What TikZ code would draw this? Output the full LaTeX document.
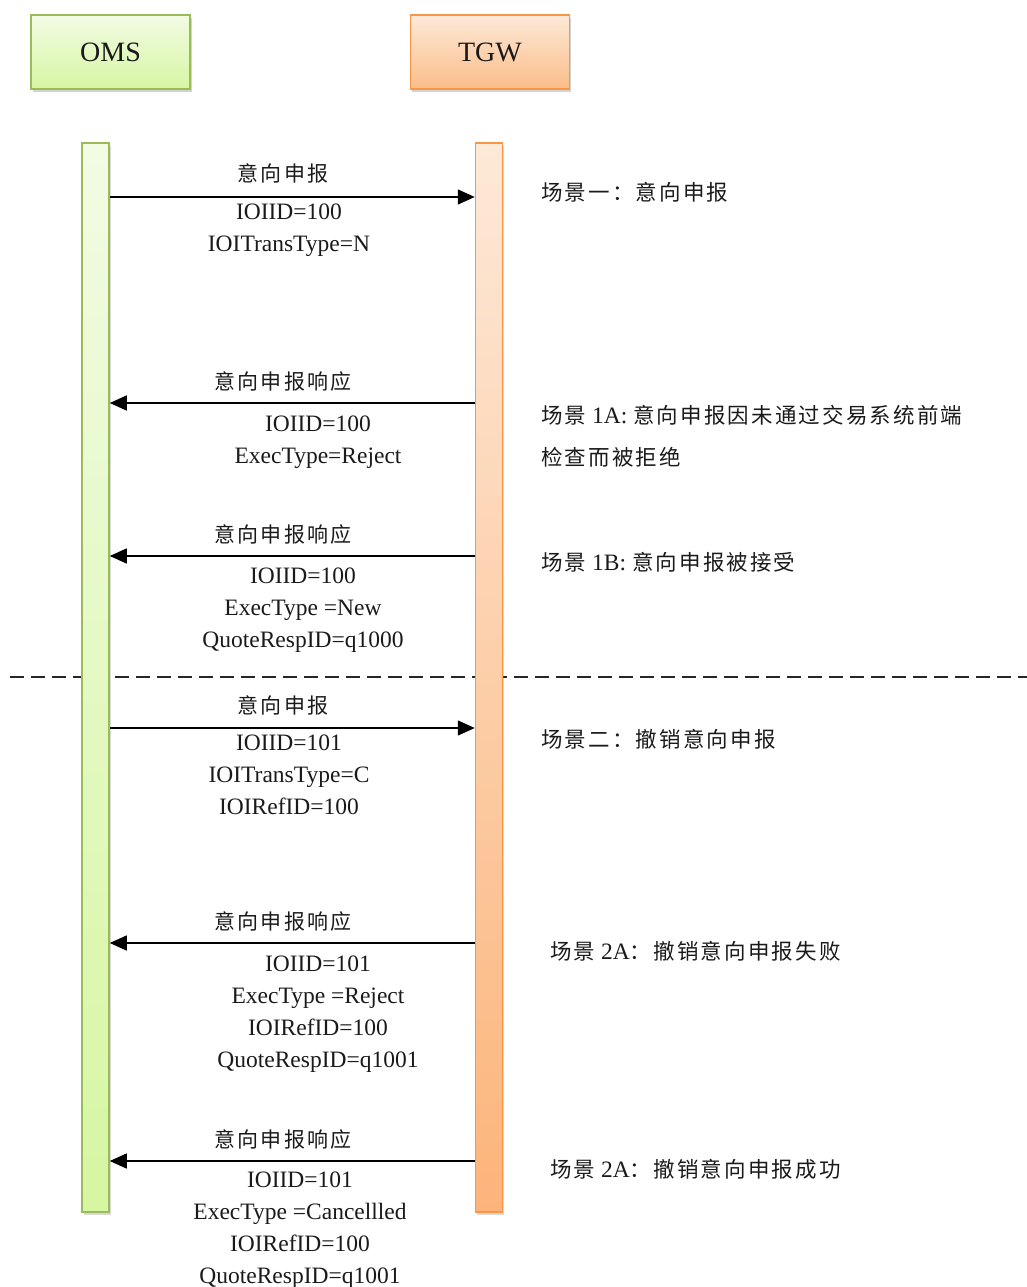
\documentclass[tikz,border=0pt]{standalone}
\usepackage{fontspec}
\setmainfont{Liberation Serif}
\newfontfamily\cjk[LetterSpace=10]{Noto Sans CJK SC}
\newfontfamily\cjks[LetterSpace=10,Scale=0.915]{Noto Sans CJK SC}
\usetikzlibrary{arrows.meta,shadows}
\definecolor{gborder}{HTML}{9BBB59}
\definecolor{gtop}{HTML}{F2FBE4}
\definecolor{gbot}{HTML}{D6F6A2}
\definecolor{oborder}{HTML}{F79646}
\definecolor{otop}{HTML}{FDE9D8}
\definecolor{obot}{HTML}{FBBD88}
\definecolor{obotl}{HTML}{FCB47A}
\definecolor{txt}{HTML}{1A1A1A}
\tikzset{
  hdr/.style={draw, line width=1.5pt, minimum width=159pt, minimum height=74pt, inner sep=0pt,
    font=\fontsize{28}{32}\selectfont, text=txt,
    drop shadow={opacity=0.35, shadow xshift=1.5pt, shadow yshift=-3pt}},
  lifeline/.style={draw, line width=1.5pt, minimum width=27pt, minimum height=1069pt, inner sep=0pt,
    drop shadow={opacity=0.3, shadow xshift=1.5pt, shadow yshift=-3pt}},
  msg/.style={line width=1.4pt, -{Triangle[length=17pt,width=15pt]}},
  mlabel/.style={font=\fontsize{21}{26}\selectfont\cjk, text=txt, inner sep=0pt},
  fields/.style={font=\fontsize{23.5}{32}\selectfont, text=txt, align=center, anchor=north, inner sep=0pt},
  scene/.style={font=\fontsize{23.5}{42}\selectfont, text=txt, align=left, anchor=west, inner sep=0pt},
}
\begin{document}
\begin{tikzpicture}[x=1pt,y=-1pt]
\useasboundingbox (0,0) rectangle (1027,1287);
% separator (behind lifelines)
\coordinate (sepL) at (10,677);
\coordinate (sepR) at (1027,677);
\draw[line width=1.8pt, dash pattern=on 14pt off 7pt, black!85] (sepL) -- (sepR);

% headers
\node[hdr, color=gborder, top color=gtop, bottom color=gbot] (oms) at (110.5,52) {\textcolor{txt}{OMS}};
\node[hdr, color=oborder, top color=otop, bottom color=obot] (tgw) at (490,52) {\textcolor{txt}{TGW}};

% lifelines
\node[lifeline, color=gborder, top color=gtop, bottom color=gbot] (omsL) at (95.5,677.5) {};
\node[lifeline, color=oborder, top color=otop, bottom color=obotl] (tgwL) at (489,677.5) {};

% message 1
\draw[msg] (omsL.east |- 0,197) -- (tgwL.west |- 0,197);
\node[mlabel] (l1) at (283,173) {意向申报};
\node[fields] (f1) at (289,203.5) {IOIID=100\\IOITransType=N};

% message 2
\draw[msg] (tgwL.west |- 0,403) -- (omsL.east |- 0,403);
\node[mlabel] (l2) at (283,381) {意向申报响应};
\node[fields] (f2) at (318,415.5) {IOIID=100\\ExecType=Reject};

% message 3
\draw[msg] (tgwL.west |- 0,556) -- (omsL.east |- 0,556);
\node[mlabel] (l3) at (283,534) {意向申报响应};
\node[fields] (f3) at (303,568) {IOIID=100\\ExecType =New\\QuoteRespID=q1000};

% message 4
\draw[msg] (omsL.east |- 0,728) -- (tgwL.west |- 0,728);
\node[mlabel] (l4) at (283,705) {意向申报};
\node[fields] (f4) at (289,734.5) {IOIID=101\\IOITransType=C\\IOIRefID=100};

% message 5
\draw[msg] (tgwL.west |- 0,943) -- (omsL.east |- 0,943);
\node[mlabel] (l5) at (283,921) {意向申报响应};
\node[fields] (f5) at (318,955.5) {IOIID=101\\ExecType =Reject\\IOIRefID=100\\QuoteRespID=q1001};

% message 6
\draw[msg] (tgwL.west |- 0,1161) -- (omsL.east |- 0,1161);
\node[mlabel] (l6) at (283,1139) {意向申报响应};
\node[fields] (f6) at (300,1171.5) {IOIID=101\\ExecType =Cancellled\\IOIRefID=100\\QuoteRespID=q1001};

% scene notes
\node[scene] (s1) at (541,192) {{\cjks 场景一：意向申报}};
\node[scene, anchor=north west] (s1a) at (541,405) {{\cjks 场景} 1A: {\cjks 意向申报因未通过交易系统前端}\\{\cjks 检查而被拒绝}};
\node[scene] (s1b) at (541,562) {{\cjks 场景} 1B: {\cjks 意向申报被接受}};
\node[scene] (s2) at (541,739) {{\cjks 场景二：撤销意向申报}};
\node[scene] (s2a) at (550,951) {{\cjks 场景} 2A{\cjks ：撤销意向申报失败}};
\node[scene] (s2b) at (550,1169) {{\cjks 场景} 2A{\cjks ：撤销意向申报成功}};
\end{tikzpicture}
\end{document}
